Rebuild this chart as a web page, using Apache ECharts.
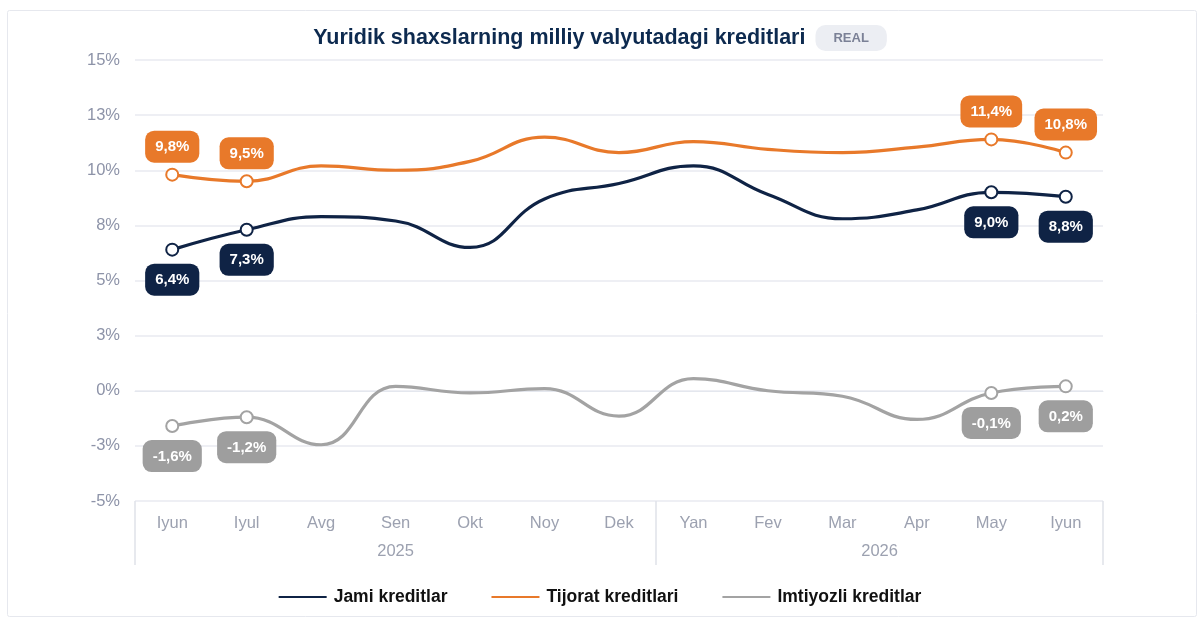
<!DOCTYPE html>
<html>
<head>
<meta charset="utf-8">
<script src="https://cdn.jsdelivr.net/npm/echarts@6/dist/echarts.min.js"></script>
<style>
html,body{margin:0;padding:0;background:#fff;}
#chart{width:1200px;height:622px;}
</style>
</head>
<body>
<div id="chart"></div>
<script>
const months = ['Iyun','Iyul','Avg','Sen','Okt','Noy','Dek','Yan','Fev','Mar','Apr','May','Iyun'];
const years = ['2025','2026'];
const yearSpans = [7, 6];
const jami = [6.4, 7.3, 7.9, 7.7, 6.5, 8.7, 9.4, 10.2, 8.9, 7.8, 8.2, 9.0, 8.8];
const tijorat = [9.8, 9.5, 10.2, 10.0, 10.4, 11.5, 10.8, 11.3, 10.95, 10.8, 11.05, 11.4, 10.8];
const imtiyozli = [-1.6, -1.2, -2.45, 0.2, -0.1, 0.1, -1.15, 0.55, 0.0, -0.25, -1.3, -0.1, 0.2];
const seriesNames = ['Jami kreditlar','Tijorat kreditlari','Imtiyozli kreditlar'];
const labeledIdx = [0, 1, 11, 12];

const colors = ['#0f2345', '#e8792a', '#a3a3a3'];
const labelBg = ['#0f2345', '#e8792a', '#9e9e9e'];
const labelPos = ['bottom', 'top', 'bottom'];

function fmt(v){ return v.toFixed(1).replace('.', ',') + '%'; }

function buildData(arr, si){
  return arr.map((v, i) => {
    const on = labeledIdx.indexOf(i) >= 0;
    return {
      value: v,
      symbol: on ? 'emptyCircle' : 'none',
      label: { show: on }
    };
  });
}

const yearBounds = [0];
yearSpans.forEach(s => yearBounds.push(yearBounds[yearBounds.length-1] + s));
const yearCenters = yearSpans.map((s, i) => yearBounds[i] + s / 2);

const chart = echarts.init(document.getElementById('chart'), null, {renderer:'canvas'});

const series = [jami, tijorat, imtiyozli].map((arr, si) => ({
  name: seriesNames[si],
  type: 'line',
  smooth: 0.45,
  xAxisIndex: 0,
  data: buildData(arr, si),
  showSymbol: true,
  symbolSize: 12,
  lineStyle: { width: 3.2, color: colors[si] },
  itemStyle: { color: colors[si], borderWidth: 2.4 },
  z: si === 2 ? 2 : (si === 0 ? 4 : 3),
  label: {
    show: false,
    position: labelPos[si],
    distance: si === 1 ? 5 : 7,
    formatter: p => fmt(p.value),
    color: '#fff',
    fontFamily: 'Liberation Sans, Arial, sans-serif',
    fontWeight: 'bold',
    fontSize: 15,
    backgroundColor: labelBg[si],
    borderRadius: 9,
    padding: [9, 10, 8, 10]
  },
  emphasis: { disabled: true }
}));

const option = {
  animation: false,
  backgroundColor: '#fff',
  textStyle: { fontFamily: 'Liberation Sans, Arial, sans-serif' },
  title: {
    text: '{t|Yuridik shaxslarning milliy valyutadagi kreditlari}  {b|REAL}',
    left: 'center',
    top: 20,
    textStyle: {
      rich: {
        t: { fontSize: 21.5, fontWeight: 'bold', color: '#0d2a4f', fontFamily: 'Liberation Sans, Arial, sans-serif' },
        b: { fontSize: 13, fontWeight: 'bold', color: '#7b8196', backgroundColor: '#eceef3', borderRadius: 10, padding: [7, 18, 6, 18], fontFamily: 'Liberation Sans, Arial, sans-serif' }
      }
    }
  },
  graphic: [{
    type: 'rect',
    left: 5, top: 8,
    shape: { width: 1189, height: 606, r: 2 },
    style: { fill: 'none', stroke: '#e6e8ee', lineWidth: 1 },
    silent: true, z: -10
  }],
  color: colors,
  legend: {
    bottom: 11,
    left: 'center',
    itemWidth: 48,
    itemHeight: 2,
    itemGap: 44,
    icon: 'rect',
    textStyle: { fontSize: 17.5, fontWeight: 'bold', color: '#111', padding: [0, 0, 0, 2] },
    data: seriesNames
  },
  grid: { left: 135, right: 97, top: 60, bottom: 121, containLabel: false },
  xAxis: [{
    type: 'category',
    data: months,
    boundaryGap: true,
    axisLine: { show: true, lineStyle: { color: '#e4e7ee', width: 1 } },
    axisTick: { show: false },
    axisLabel: { color: '#9ca1b0', fontSize: 16.5, margin: 14 },
    splitLine: { show: false }
  }, {
    type: 'value',
    position: 'bottom',
    min: 0,
    max: months.length,
    axisLine: { show: false },
    splitLine: { show: false },
    axisTick: { show: true, customValues: yearBounds, length: 64, lineStyle: { color: '#dfe2e9', width: 1.5 } },
    axisLabel: {
      show: true,
      customValues: yearCenters,
      formatter: v => { const k = yearCenters.indexOf(v); return k >= 0 ? years[k] : ''; },
      color: '#9ca1b0', fontSize: 16.5, margin: 42
    }
  }],
  yAxis: {
    type: 'value',
    min: -5, max: 15, interval: 2.5,
    axisLine: { show: false },
    axisTick: { show: false },
    axisLabel: { color: '#8d93a8', fontSize: 16.5, margin: 15, formatter: v => v.toFixed(0) + '%' },
    splitLine: { lineStyle: { color: '#e8eaf1', width: 1.5 } }
  },
  series: series
};
chart.setOption(option);
</script>
</body>
</html>
